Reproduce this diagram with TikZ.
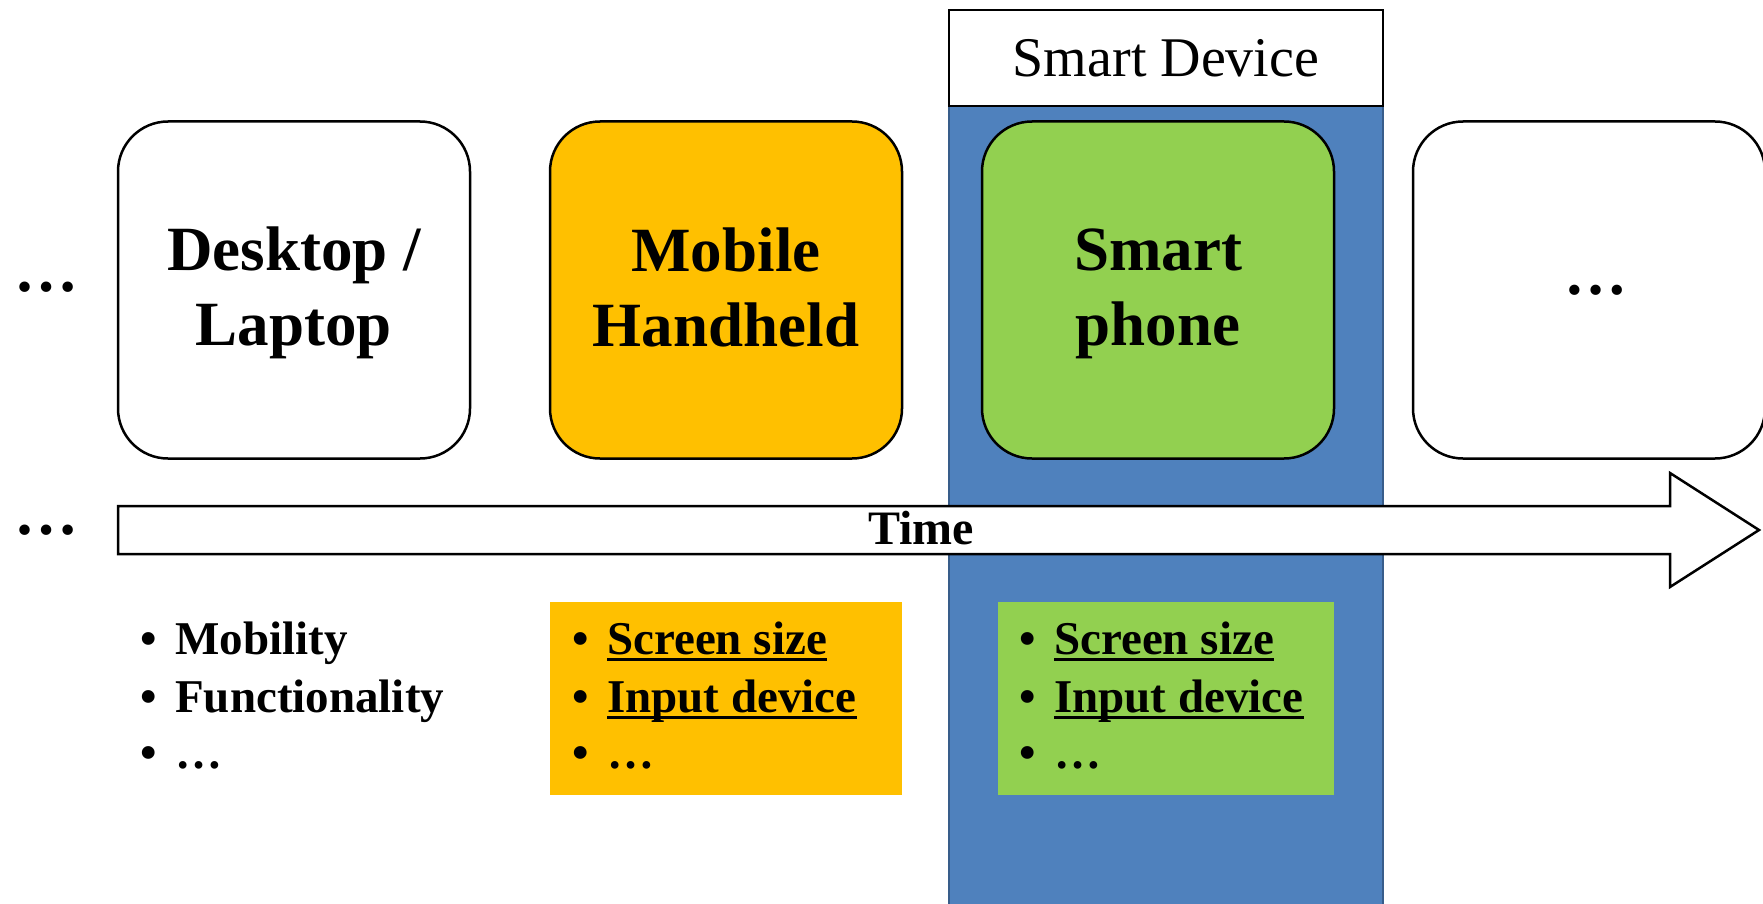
\documentclass[tikz,border=0pt]{standalone}
\usepackage{fontspec}
\setmainfont{Liberation Serif}
\definecolor{sdblue}{HTML}{4F81BD}
\definecolor{sdblueb}{HTML}{385D8A}
\definecolor{mhyellow}{HTML}{FFC000}
\definecolor{spgreen}{HTML}{92D050}
\newcommand\myul[1]{\setbox0=\hbox{#1}\rlap{\rule[-7pt]{\wd0}{3pt}}\box0}
\newcommand\mybul{\makebox[35pt][l]{•}}
\newcommand\toph{\rule{0pt}{50pt}}
\newcommand\botd{\rule[-13pt]{0pt}{13pt}}
\begin{document}
\begin{tikzpicture}[x=1pt,y=-1pt,
  gen/.style={draw=black, line width=2.5pt, rounded corners=50pt, minimum width=352pt, minimum height=337pt, align=center, font=\fontsize{63}{75}\selectfont\bfseries, inner sep=0pt},
  item/.style={anchor=base west, inner sep=0pt, font=\fontsize{47}{56}\selectfont\bfseries},
  dots/.style={anchor=base, inner sep=0pt, font=\fontsize{64}{70}\selectfont\bfseries},
  listbox/.style={minimum height=193pt, inner sep=0pt}]
\useasboundingbox (0,0) rectangle (1763,904);
% smart device column
\node[draw=sdblueb, fill=sdblue, line width=1.5pt, minimum width=434pt, minimum height=810pt, anchor=north, inner sep=0pt] (col) at (1166,106) {};
\node[draw=black, fill=white, line width=2.5pt, minimum width=434pt, minimum height=96pt, inner sep=0pt, font=\fontsize{56}{60}\selectfont] (sd) at (1166,58) {Smart Device};
% generation boxes
\node[gen, fill=white] (desk) at (294,290) {\toph Desktop /\\Laptop\botd};
\node[gen, fill=mhyellow] (mob) at (726,290) {\toph Mobile\\Handheld\botd};
\node[gen, fill=spgreen] (phone) at (1158,290) {\toph Smart\\phone\botd};
\node[gen, fill=white] (more) at (1589,290) {\hspace*{14pt}…};
% left dots
\node[dots] (ldotsa) at (46,291) {…};
\node[dots] (ldotsb) at (46,534) {…};
% time arrow
\draw[line width=2.5pt, fill=white] (118,506) -- (1670,506) -- (1670,473) -- (1759,530) -- (1670,587) -- (1670,554) -- (118,554) -- cycle;
\node[font=\fontsize{48}{50}\selectfont\bfseries, anchor=base, inner sep=0pt] (time) at (921,544) {Time};
% list boxes
\node[listbox, fill=mhyellow, minimum width=352pt] (mlist) at (726,698.5) {};
\node[listbox, fill=spgreen, minimum width=336pt] (plist) at (1166,698.5) {};
% desktop list
\node[item] (da) at (140,654) {\mybul Mobility};
\node[item] (db) at (140,712) {\mybul Functionality};
\node[item] (dc) at (140,768) {\mybul …};
% mobile list
\node[item] (ma) at (572,654) {\mybul\myul{Screen size}};
\node[item] (mb) at (572,712) {\mybul\myul{Input device}};
\node[item] (mc) at (572,768) {\mybul …};
% phone list
\node[item] (pa) at (1019,654) {\mybul\myul{Screen size}};
\node[item] (pb) at (1019,712) {\mybul\myul{Input device}};
\node[item] (pc) at (1019,768) {\mybul …};
\end{tikzpicture}
\end{document}
